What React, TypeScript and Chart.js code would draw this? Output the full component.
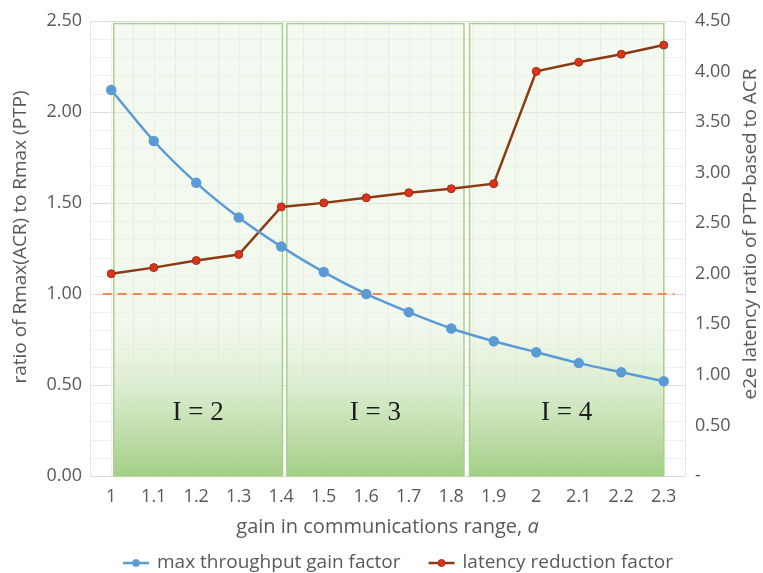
import React, { useEffect, useRef } from 'react';
import { Chart, registerables } from 'chart.js';

Chart.register(...registerables);

// gain in communications range, a
const gainLabels = ['1', '1.1', '1.2', '1.3', '1.4', '1.5', '1.6', '1.7', '1.8', '1.9', '2', '2.1', '2.2', '2.3'];
// ratio of Rmax(ACR) to Rmax(PTP) — left axis
const throughputGain = [2.12, 1.84, 1.61, 1.42, 1.26, 1.12, 1.0, 0.9, 0.81, 0.74, 0.68, 0.62, 0.57, 0.52];
// e2e latency ratio of PTP-based to ACR — right axis
const latencyReduction = [2.0, 2.06, 2.13, 2.19, 2.66, 2.7, 2.75, 2.8, 2.84, 2.89, 4.0, 4.09, 4.17, 4.26];
// break-even reference level on the left axis, and the span of a it covers
const referenceRatio = 1.0;
const referenceSpan = [0.98, 2.325];
// hop-count regimes, as ranges of a
const regimeNames = ['I = 2', 'I = 3', 'I = 4'];
const regimeFrom = [1.006, 1.413, 1.843];
const regimeTo = [1.403, 1.83, 2.3];
const regimeTop = 2.485;
const regimeLabelLevel = 0.35;

const FONT = "'Open Sans', 'DejaVu Sans', sans-serif";
const TEXT = '#595959';

const aStart = parseFloat(gainLabels[0]);
const aStep = parseFloat(gainLabels[1]) - aStart;
const toIndex = (a: number) => (a - aStart) / aStep;

const decorations = {
  id: 'decorations',
  beforeDatasetsDraw(chart: any) {
    const { ctx, chartArea: area, scales } = chart;
    const x = scales.x;
    const y = scales.y;
    ctx.save();

    // minor + major grid
    ctx.lineWidth = 1;
    for (let i = 0; i <= 25; i++) {
      const v = i / 10;
      const py = Math.round(y.getPixelForValue(v)) + 0.5;
      ctx.strokeStyle = i % 5 === 0 ? '#dcdcdc' : '#f0f0f0';
      ctx.beginPath();
      ctx.moveTo(area.left, py);
      ctx.lineTo(area.right, py);
      ctx.stroke();
    }
    for (let k = -1; k <= gainLabels.length * 2 - 1; k++) {
      const px = Math.round(x.getPixelForValue(k / 2)) + 0.5;
      ctx.strokeStyle = k % 2 === 0 ? '#f0f0f0' : '#e6e6e6';
      ctx.beginPath();
      ctx.moveTo(px, area.top);
      ctx.lineTo(px, area.bottom);
      ctx.stroke();
    }

    // regime boxes
    const top = y.getPixelForValue(regimeTop);
    const bottom = y.getPixelForValue(0);
    const grad = ctx.createLinearGradient(0, top, 0, bottom);
    grad.addColorStop(0, 'rgba(232,243,224,0.45)');
    grad.addColorStop(0.66, 'rgba(230,242,222,0.55)');
    grad.addColorStop(0.8, 'rgba(214,234,200,0.85)');
    grad.addColorStop(1, 'rgba(160,205,130,0.97)');
    regimeNames.forEach((name, i) => {
      const l = x.getPixelForValue(toIndex(regimeFrom[i]));
      const r = x.getPixelForValue(toIndex(regimeTo[i]));
      ctx.fillStyle = grad;
      ctx.fillRect(l, top, r - l, bottom - top);
      ctx.strokeStyle = '#a9d18e';
      ctx.lineWidth = 1.5;
      ctx.strokeRect(l, top, r - l, bottom - top);
      ctx.fillStyle = '#1e1e1e';
      ctx.font = "27px 'Liberation Serif', 'DejaVu Serif', serif";
      ctx.textAlign = 'center';
      ctx.textBaseline = 'middle';
      ctx.fillText(name, (l + r) / 2, y.getPixelForValue(regimeLabelLevel) + 1);
    });

    // reference level
    const ry = y.getPixelForValue(referenceRatio);
    ctx.strokeStyle = '#f08b4c';
    ctx.lineWidth = 2;
    ctx.setLineDash([9, 6]);
    ctx.beginPath();
    ctx.moveTo(x.getPixelForValue(toIndex(referenceSpan[0])), ry);
    ctx.lineTo(x.getPixelForValue(toIndex(referenceSpan[1])), ry);
    ctx.stroke();
    ctx.restore();
  },
  afterDraw(chart: any) {
    const { ctx, chartArea: area } = chart;
    ctx.save();
    ctx.fillStyle = TEXT;
    ctx.textBaseline = 'middle';
    ctx.font = `19px ${FONT}`;

    // left axis title
    ctx.save();
    ctx.translate(21, 237);
    ctx.rotate(-Math.PI / 2);
    ctx.textAlign = 'center';
    ctx.fillText('ratio of Rmax(ACR) to Rmax (PTP)', 0, 0);
    ctx.restore();

    // right axis title
    ctx.save();
    ctx.translate(751, 234);
    ctx.rotate(-Math.PI / 2);
    ctx.textAlign = 'center';
    ctx.fillText('e2e latency ratio of PTP-based to ACR', 0, 0);
    ctx.restore();

    // x axis title with italic symbol
    const main = 'gain in communications range, ';
    const sym = 'a';
    ctx.font = `20px ${FONT}`;
    const w1 = ctx.measureText(main).width;
    ctx.font = `italic 20px ${FONT}`;
    const w2 = ctx.measureText(sym).width;
    const sx = (area.left + area.right) / 2 - (w1 + w2) / 2;
    ctx.textAlign = 'left';
    ctx.font = `20px ${FONT}`;
    ctx.fillText(main, sx, 527);
    ctx.font = `italic 20px ${FONT}`;
    ctx.fillText(sym, sx + w1, 527);

    // legend
    const items = [
      { text: 'max throughput gain factor', line: '#5b9bd5', dot: '#5b9bd5', edge: '#5b9bd5' },
      { text: 'latency reduction factor', line: '#8b3a12', dot: '#e2301c', edge: '#8b3a12' },
    ];
    ctx.font = `19px ${FONT}`;
    let lx = 123;
    const ly = 563;
    items.forEach((it) => {
      ctx.strokeStyle = it.line;
      ctx.lineWidth = 2.5;
      ctx.beginPath();
      ctx.moveTo(lx, ly);
      ctx.lineTo(lx + 26, ly);
      ctx.stroke();
      ctx.fillStyle = it.dot;
      ctx.strokeStyle = it.edge;
      ctx.lineWidth = 1;
      ctx.beginPath();
      ctx.arc(lx + 13, ly, 3.5, 0, Math.PI * 2);
      ctx.fill();
      ctx.stroke();
      ctx.fillStyle = TEXT;
      ctx.fillText(it.text, lx + 34, ly);
      lx += 34 + ctx.measureText(it.text).width + 28;
    });
    ctx.restore();
  },
};

export default function App() {
  const canvasRef = useRef<HTMLCanvasElement | null>(null);

  useEffect(() => {
    const canvas = canvasRef.current;
    if (!canvas) return;
    const tickFont = { family: FONT, size: 18 };
    const chart = new Chart(canvas, {
      type: 'line',
      data: {
        labels: gainLabels,
        datasets: [
          {
            label: 'max throughput gain factor',
            data: throughputGain,
            yAxisID: 'y',
            borderColor: '#5b9bd5',
            backgroundColor: '#5b9bd5',
            pointBackgroundColor: '#5b9bd5',
            pointBorderColor: '#5b9bd5',
            borderWidth: 2.5,
            pointRadius: 4,
            tension: 0.25,
          },
          {
            label: 'latency reduction factor',
            data: latencyReduction,
            yAxisID: 'y1',
            borderColor: '#8b3a12',
            backgroundColor: '#e2301c',
            pointBackgroundColor: '#e2301c',
            pointBorderColor: '#8b3a12',
            pointBorderWidth: 1,
            borderWidth: 2.5,
            pointRadius: 4,
            tension: 0,
          },
        ],
      },
      options: {
        responsive: false,
        animation: false,
        layout: { padding: { top: 18, left: 0, right: 0, bottom: 0 } },
        plugins: { legend: { display: false }, tooltip: { enabled: false } },
        scales: {
          x: {
            type: 'category',
            offset: true,
            grid: { display: false, drawTicks: false },
            border: { display: false },
            ticks: { color: TEXT, font: tickFont, padding: 10, maxRotation: 0, autoSkip: false },
            afterFit: (s: any) => { s.height = 97; },
          },
          y: {
            position: 'left',
            min: 0,
            max: 2.5,
            grid: { display: false, drawTicks: false },
            border: { display: false },
            ticks: {
              stepSize: 0.5,
              color: TEXT,
              font: tickFont,
              padding: 8,
              callback: (v: any) => Number(v).toFixed(2),
            },
            afterFit: (s: any) => { s.width = 90; },
          },
          y1: {
            position: 'right',
            min: 0,
            max: 4.5,
            grid: { display: false, drawTicks: false },
            border: { display: false },
            ticks: {
              stepSize: 0.5,
              color: TEXT,
              font: tickFont,
              padding: 10,
              callback: (v: any) => (Number(v) === 0 ? '-' : Number(v).toFixed(2)),
            },
            afterFit: (s: any) => { s.width = 78; },
          },
        },
      },
      plugins: [decorations],
    });
    return () => chart.destroy();
  }, []);

  return (
    <div style={{ position: 'absolute', left: 0, top: 0, width: 763, height: 573, background: '#fff' }}>
      <canvas ref={canvasRef} width={763} height={573} />
    </div>
  );
}
